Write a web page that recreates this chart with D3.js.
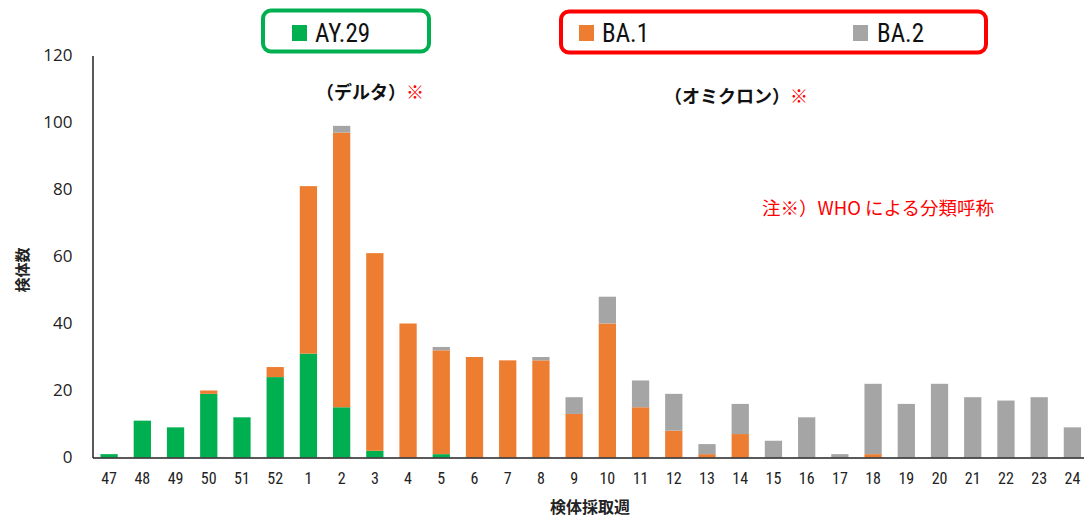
<!DOCTYPE html>
<html>
<head>
<meta charset="utf-8">
<script src="https://cdn.jsdelivr.net/npm/d3@7"></script>
<style>
  html, body { margin: 0; padding: 0; background: #fff; }
  svg { display: block; }
</style>
</head>
<body>
<svg id="chart" width="1084" height="521"></svg>
<script>
// Sampling week numbers (2021 wk47 – 2022 wk24)
const weeks = ["47","48","49","50","51","52","1","2","3","4","5","6","7","8","9","10","11","12","13","14","15","16","17","18","19","20","21","22","23","24"];

// Specimen counts per lineage
const ay29 = [1,11,9,19,12,24,31,15,2,0,1,0,0,0,0,0,0,0,0,0,0,0,0,0,0,0,0,0,0,0];
const ba1  = [0,0,0,1,0,3,50,82,59,40,31,30,29,29,13,40,15,8,1,7,0,0,0,1,0,0,0,0,0,0];
const ba2  = [0,0,0,0,0,0,0,2,0,0,1,0,0,1,5,8,8,11,3,9,5,12,1,21,16,22,18,17,18,9];

const seriesNames = ["AY.29", "BA.1", "BA.2"];
const seriesColors = ["#00b050", "#ed7d31", "#a5a5a5"];
const yTicks = [0, 20, 40, 60, 80, 100, 120];

const svg = d3.select("#chart");
const jp = "'Noto Sans CJK JP', 'Noto Sans', sans-serif";
const narrow = "'Liberation Sans Narrow', 'Roboto Condensed', 'Liberation Sans', sans-serif";

const plot = { left: 92.5, right: 1089, top: 55.5, bottom: 457.5 };

const x = d3.scaleBand().domain(weeks).range([plot.left, plot.right]).paddingInner(0.48).paddingOuter(0.24);
const y = d3.scaleLinear().domain([0, 120]).range([plot.bottom, plot.top]);

const table = weeks.map((w, i) => ({ week: w, "AY.29": ay29[i], "BA.1": ba1[i], "BA.2": ba2[i] }));
const stacked = d3.stack().keys(seriesNames)(table);

// stacked bars
svg.append("g").selectAll("g").data(stacked).join("g")
  .attr("fill", (d, i) => seriesColors[i])
  .selectAll("rect").data(d => d).join("rect")
  .attr("x", d => x(d.data.week))
  .attr("width", x.bandwidth())
  .attr("y", d => y(d[1]))
  .attr("height", d => y(d[0]) - y(d[1]));

// y axis
const yAxis = svg.append("g").attr("transform", `translate(${plot.left},0)`)
  .call(d3.axisLeft(y).tickValues(yTicks).tickSize(0).tickPadding(20));
yAxis.select(".domain").attr("stroke", "#222").attr("stroke-width", 1.5);
yAxis.selectAll("text").attr("font-family", "'Open Sans', 'Noto Sans', sans-serif")
  .attr("font-size", 17).attr("fill", "#222");

// x axis
const xAxis = svg.append("g").attr("transform", `translate(0,${plot.bottom})`)
  .call(d3.axisBottom(x).tickSize(0).tickPadding(15));
xAxis.select(".domain").attr("stroke", "#222").attr("stroke-width", 1.5);
xAxis.selectAll("text").attr("font-family", narrow).attr("font-size", 16).attr("fill", "#222");

// axis titles
svg.append("text").attr("transform", "translate(28,270) rotate(-90)")
  .attr("text-anchor", "middle").attr("font-family", jp).attr("font-weight", 700)
  .attr("font-size", 15).attr("fill", "#222").text("検体数");
svg.append("text").attr("x", 590).attr("y", 513)
  .attr("text-anchor", "middle").attr("font-family", jp).attr("font-weight", 700)
  .attr("font-size", 16).attr("fill", "#222").text("検体採取週");

// legend boxes
svg.append("rect").attr("x", 263).attr("y", 10.5).attr("width", 166).attr("height", 41)
  .attr("rx", 8).attr("fill", "none").attr("stroke", "#00b050").attr("stroke-width", 4);
svg.append("rect").attr("x", 561).attr("y", 11.5).attr("width", 425).attr("height", 41)
  .attr("rx", 8).attr("fill", "none").attr("stroke", "#ff0000").attr("stroke-width", 4);

const legendItems = [
  { name: seriesNames[0], color: seriesColors[0], sx: 292, tx: 315 },
  { name: seriesNames[1], color: seriesColors[1], sx: 579, tx: 602 },
  { name: seriesNames[2], color: seriesColors[2], sx: 853, tx: 877 }
];
const lg = svg.append("g").selectAll("g").data(legendItems).join("g");
lg.append("rect").attr("x", d => d.sx).attr("y", 25).attr("width", 15).attr("height", 16)
  .attr("fill", d => d.color);
lg.append("text").attr("x", d => d.tx).attr("y", 42).attr("font-family", narrow)
  .attr("font-size", 25).attr("fill", "#111").text(d => d.name);

// lineage annotations
function note(xPos, yPos, label) {
  const t = svg.append("text").attr("x", xPos).attr("y", yPos)
    .attr("font-family", jp).attr("font-size", 18).attr("font-weight", 700);
  t.append("tspan").attr("fill", "#111").text(label);
  t.append("tspan").attr("fill", "#ff0000").attr("font-weight", 400).text("※");
}
note(316, 99, "（デルタ）");
note(664, 103, "（オミクロン）");

svg.append("text").attr("x", 762).attr("y", 215)
  .attr("font-family", jp).attr("font-size", 18.5).attr("fill", "#ff0000")
  .text("注※）WHO による分類呼称");
</script>
</body>
</html>
